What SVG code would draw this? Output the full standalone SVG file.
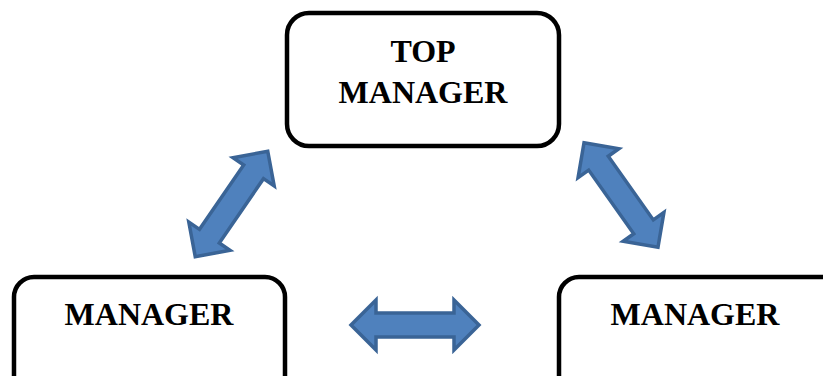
<svg xmlns="http://www.w3.org/2000/svg" width="823" height="376" viewBox="0 0 823 376">
<style>
.box{fill:#fff;stroke:#000;stroke-width:4.5}
.lbl{font-family:"Liberation Serif","Times New Roman",serif;font-weight:bold;font-size:32px;fill:#000;text-anchor:middle}
.arr{fill:#4F81BD;stroke:#3A6496;stroke-width:3.5;stroke-linejoin:miter}
</style>
<defs>
<path id="dbl" d="M-64,0 L-39,-25 L-39,-12 L39,-12 L39,-25 L64,0 L39,25 L39,12 L-39,12 L-39,25 Z"/>
</defs>
<rect width="823" height="376" fill="#fff"/>
<g id="top-manager">
<rect class="box" x="287" y="13" width="272" height="133" rx="22"/>
<text class="lbl" x="423" y="62">TOP</text>
<text class="lbl" x="423" y="103">MANAGER</text>
</g>
<g id="manager-left">
<rect class="box" x="14" y="277" width="271" height="130" rx="20"/>
<text class="lbl" x="149" y="325">MANAGER</text>
</g>
<g id="manager-right">
<rect class="box" x="559" y="277" width="300" height="130" rx="20"/>
<text class="lbl" x="695" y="325">MANAGER</text>
</g>
<g id="connectors">
<use href="#dbl" class="arr" transform="translate(231.5,204) rotate(-55.5)"/>
<use href="#dbl" class="arr" transform="translate(621,195) rotate(54.7)"/>
<use href="#dbl" class="arr" transform="translate(415,325)"/>
</g>
</svg>
